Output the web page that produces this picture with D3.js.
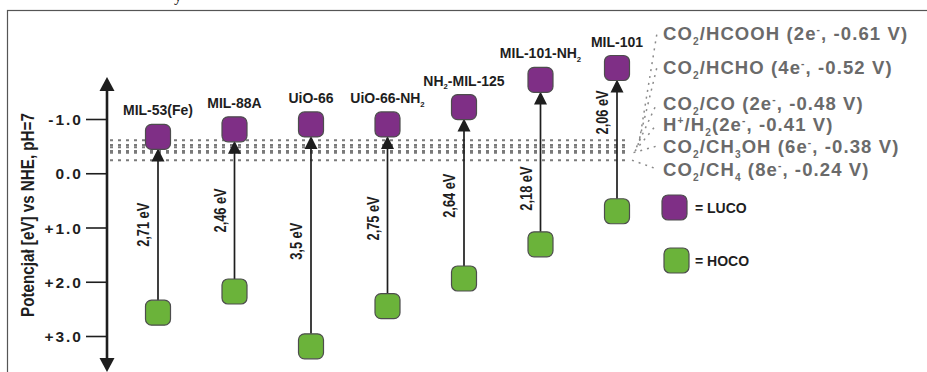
<!DOCTYPE html>
<html><head><meta charset="utf-8">
<script src="https://cdn.jsdelivr.net/npm/d3@7"></script>
<style>body{margin:0;background:#fff}svg{display:block}text{white-space:pre}</style>
</head><body><svg id="c" width="927" height="372"></svg>
<script>
// ---------- data ----------
const materials = ["MIL-53(Fe)","MIL-88A","UiO-66","UiO-66-NH_2","NH_2-MIL-125","MIL-101-NH_2","MIL-101"];
const lucoValues = [-0.67,-0.81,-0.90,-0.90,-1.22,-1.72,-1.94];
const hocoValues = [2.57,2.18,3.19,2.45,1.94,1.31,0.70];
const bandGapLabels = ["2,71 eV","2,46 eV","3,5 eV","2,75 eV","2,64 eV","2,18 eV","2,06 eV"];
const redoxLabels = ["CO_2/HCOOH (2e^-, -0.61 V)","CO_2/HCHO (4e^-, -0.52 V)","CO_2/CO (2e^-, -0.48 V)","H^+/H_2(2e^-, -0.41 V)","CO_2/CH_3OH (6e^-, -0.38 V)","CO_2/CH_4 (8e^-, -0.24 V)"];
const redoxPotentials = [-0.61,-0.52,-0.48,-0.41,-0.38,-0.24];
const yTickValues = [-1,0,1,2,3];
const yTickLabels = ["-1.0","0.0","+1.0","+2.0","+3.0"];
const legendLabels = ["= LUCO","= HOCO"];
const axisTitle = "Potencjał [eV] vs NHE, pH=7";

// ---------- layout ----------
const svg = d3.select("#c");
const axisX = 107, SQ = 25;
const y = d3.scaleLinear().domain([-1,3]).range([119,336]);
const x = d3.scalePoint().domain(materials).range([158,617]);
const purple = "#7f2f86", green = "#6bb33a", sqStroke = "#4d4d4d", ink = "#1e1e1e", grey = "#6a6a6a";
const gapLabelFrac = [0.5,0.5,0.53,0.52,0.52,0.69,0.27];
const redoxLabelY = [40,74,110,131,153,176];
const SANS = "'Liberation Sans', Arial, sans-serif";

function rich(text, str, fs){
  const parts = []; let i = 0;
  while(i < str.length){
    const c = str[i];
    if((c === "_" || c === "^") && i+1 < str.length){ parts.push({t:str[i+1], m:c}); i += 2; }
    else { let s = ""; while(i < str.length && str[i] !== "_" && str[i] !== "^"){ s += str[i]; i++; } parts.push({t:s, m:""}); }
  }
  let cur = 0;
  parts.forEach(p => {
    const off = p.m === "_" ? fs*0.28 : p.m === "^" ? -fs*0.4 : 0;
    const ts = text.append("tspan").attr("dy", off - cur).text(p.t);
    if(p.m) ts.attr("font-size", fs*0.55);
    cur = off;
  });
}

// caption remnant at top
svg.append("text").attr("x",174).attr("y",0.5).attr("font-family","'Liberation Serif', serif")
  .attr("font-size",16).attr("fill","#111").text("y");

// frame
svg.append("rect").attr("x",7.5).attr("y",10.5).attr("width",940).attr("height",400)
  .attr("fill","none").attr("stroke","#555").attr("stroke-width",1.2);

// dotted redox lines
svg.append("g").selectAll("line").data(redoxPotentials).join("line")
  .attr("x1",110).attr("x2",628).attr("y1",d=>y(d)).attr("y2",d=>y(d))
  .attr("stroke","#7a7a7a").attr("stroke-width",2).attr("stroke-dasharray","3,5");

// connectors to labels
svg.append("g").selectAll("line").data(redoxPotentials).join("line")
  .attr("x1",(d,i)=>632 + (5-i)*1.5).attr("y1",d=>y(d))
  .attr("x2",657).attr("y2",(d,i)=>redoxLabelY[i]-7)
  .attr("stroke","#8a8a8a").attr("stroke-width",1.5).attr("stroke-dasharray","2,5");

// redox labels
redoxLabels.forEach((s,i)=>{
  const t = svg.append("text").attr("x",663).attr("y",redoxLabelY[i])
    .attr("font-family",SANS).attr("font-weight","bold").attr("font-size",18.5)
    .attr("letter-spacing",1.1).attr("fill",grey);
  rich(t, s, 18.5);
});

// y axis (ticks via d3 axis)
const axisG = svg.append("g").attr("transform",`translate(${axisX},0)`)
  .call(d3.axisLeft(y).tickValues(yTickValues).tickFormat((d,i)=>yTickLabels[i]).tickSize(21).tickPadding(3));
axisG.select(".domain").remove();
axisG.selectAll(".tick line").attr("stroke",ink).attr("stroke-width",1.6);
axisG.selectAll(".tick text").attr("font-family",SANS).attr("font-weight","bold")
  .attr("font-size",15.5).attr("letter-spacing",2).attr("fill",ink).attr("dy","0.36em");

// axis line with arrows
const axTop = 77, axBot = 372;
svg.append("line").attr("x1",axisX).attr("x2",axisX).attr("y1",axTop+10).attr("y2",axBot-10)
  .attr("stroke",ink).attr("stroke-width",2.6);
svg.append("path").attr("d",`M${axisX},${axTop} L${axisX-7.5},${axTop+14} L${axisX+7.5},${axTop+14}Z`).attr("fill",ink);
svg.append("path").attr("d",`M${axisX},${axBot} L${axisX-7.5},${axBot-14} L${axisX+7.5},${axBot-14}Z`).attr("fill",ink);

// axis title
svg.append("text").attr("transform",`translate(34,215) rotate(-90) scale(0.8,1)`)
  .attr("text-anchor","middle").attr("font-family",SANS).attr("font-weight","bold")
  .attr("font-size",19).attr("fill",ink).text(axisTitle);

// arrows between HOCO and LUCO
const cols = materials.map((m,i)=>({m, luco:lucoValues[i], hoco:hocoValues[i], gap:bandGapLabels[i], f:gapLabelFrac[i]}));
const g = svg.append("g");
cols.forEach(d=>{
  const cx = x(d.m), top = y(d.luco)+SQ/2, bot = y(d.hoco)-SQ/2;
  g.append("line").attr("x1",cx).attr("x2",cx).attr("y1",bot).attr("y2",top+8)
    .attr("stroke",ink).attr("stroke-width",1.7);
  g.append("path").attr("d",`M${cx},${top-1} L${cx-6.5},${top+12} L${cx+6.5},${top+12}Z`).attr("fill",ink);
  const ly = top + d.f*(bot-top);
  g.append("text").attr("transform",`translate(${cx-9},${ly}) rotate(-90) scale(0.8,1)`)
    .attr("text-anchor","middle").attr("font-family",SANS).attr("font-weight","bold")
    .attr("font-size",16).attr("fill",ink).text(d.gap);
});

// squares
function square(sel, cx, cy, fill){
  sel.append("rect").attr("x",cx-SQ/2).attr("y",cy-SQ/2).attr("width",SQ).attr("height",SQ)
    .attr("rx",6).attr("fill",fill).attr("stroke",sqStroke).attr("stroke-width",1.2);
}
cols.forEach(d=>{
  square(g, x(d.m), y(d.luco), purple);
  square(g, x(d.m), y(d.hoco), green);
  const t = g.append("text").attr("x",x(d.m)).attr("y",y(d.luco)-SQ/2-9)
    .attr("text-anchor","middle").attr("font-family",SANS).attr("font-weight","bold")
    .attr("font-size",14).attr("fill",ink);
  rich(t, d.m, 14);
});

// legend
const legend = [{c:purple, x:674.5, y:207.5},{c:green, x:676.5, y:260.5}];
legend.forEach((l,i)=>{
  square(svg, l.x, l.y, l.c);
  svg.append("text").attr("x",695).attr("y",l.y+5).attr("font-family",SANS).attr("font-weight","bold")
    .attr("font-size",14).attr("fill",ink).text(legendLabels[i]);
});
</script></body></html>
